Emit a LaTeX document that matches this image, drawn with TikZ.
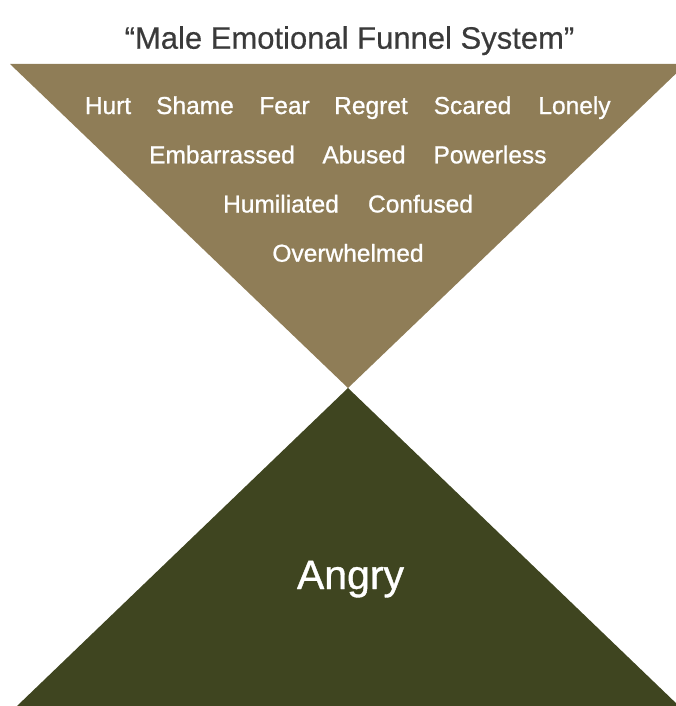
\documentclass[tikz,border=0pt]{standalone}
\usepackage{fontspec}
\setmainfont{Liberation Sans}
\newfontfamily\medfont[FakeBold=0.9]{Liberation Sans}
\newfontfamily\titlefont[FakeBold=0.5]{Liberation Sans}
\definecolor{funneltop}{HTML}{8F7D57}
\definecolor{funnelbot}{HTML}{3F4520}
\definecolor{titlegray}{HTML}{3A3A3A}
\begin{document}
\begin{tikzpicture}[x=1pt,y=-1pt,
  word/.style={anchor=base,inner sep=0pt,text=white,font=\medfont\fontsize{24.5}{28}\selectfont},
  titletext/.style={anchor=base,inner sep=0pt,text=titlegray,font=\titlefont\fontsize{31}{36}\selectfont},
  bigword/.style={anchor=base,inner sep=0pt,text=white,font=\medfont\fontsize{41}{48}\selectfont}]
\useasboundingbox (0,0) rectangle (676,706);
\fill[funneltop] (10,64) -- (686,64) -- (348,388) -- cycle;
\fill[funnelbot] (348,388) -- (679,706) -- (17,706) -- cycle;
\node[titletext] (title) at (349.5,48.7) {“Male Emotional Funnel System”};
\node[word] (hurt) at (108,114) {Hurt};
\node[word] (shame) at (195,114) {Shame};
\node[word] (fear) at (284.5,114) {Fear};
\node[word] (regret) at (371,114) {Regret};
\node[word] (scared) at (472.5,114) {Scared};
\node[word] (lonely) at (574.5,114) {Lonely};
\node[word] (embarrassed) at (222,163.3) {Embarrassed};
\node[word] (abused) at (364,163.3) {Abused};
\node[word] (powerless) at (490,163.3) {Powerless};
\node[word] (humiliated) at (281,212.5) {Humiliated};
\node[word] (confused) at (420.5,212.5) {Confused};
\node[word] (overwhelmed) at (348,261.7) {Overwhelmed};
\node[bigword] (angry) at (350.5,589) {Angry};
\end{tikzpicture}
\end{document}
